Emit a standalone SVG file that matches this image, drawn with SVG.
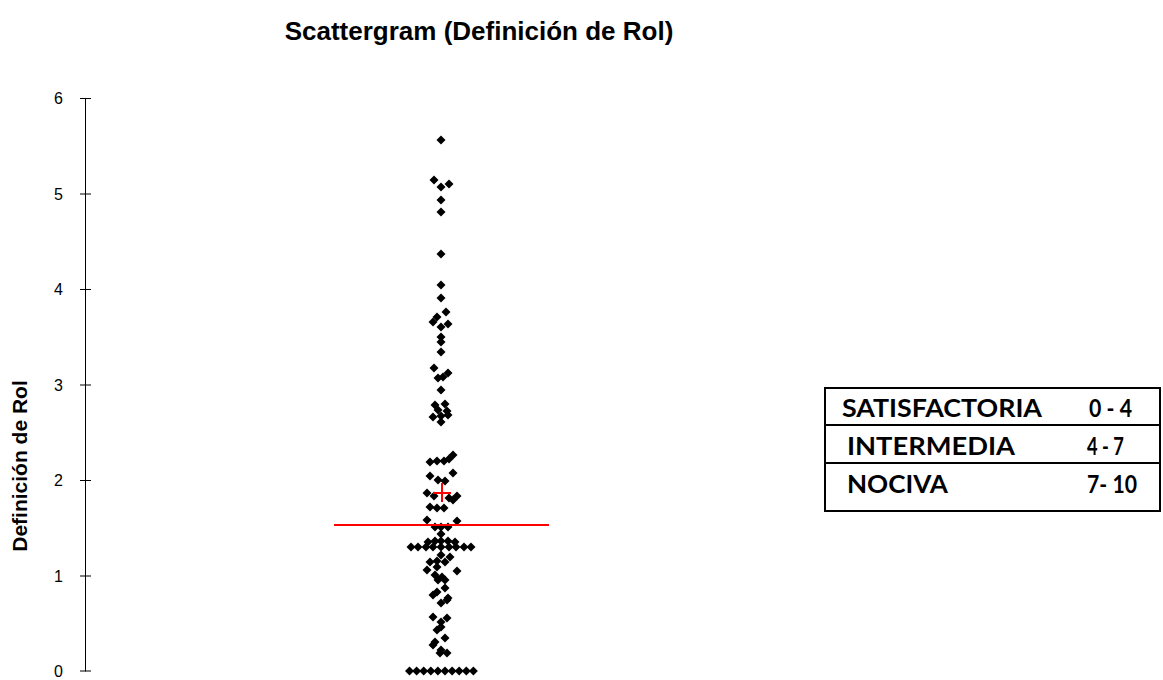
<svg xmlns="http://www.w3.org/2000/svg" xmlns:xlink="http://www.w3.org/1999/xlink" width="1163" height="680" viewBox="0 0 1163 680">
<style>
.ttl{font-family:"Liberation Sans",Arial,sans-serif;font-weight:bold;font-size:26px;fill:#000}
.tick{font-family:"Liberation Sans",Arial,sans-serif;font-size:16px;fill:#000;text-anchor:end}
.ax{stroke:#000;stroke-width:1;fill:none}
.tb{font-family:Lato,"Liberation Sans",sans-serif;font-weight:bold;font-size:25px;fill:#000}
.red{stroke:#ff0000;stroke-width:2;fill:none}
</style>
<defs>
<path id="d" d="M0,-4.5 L4.5,0 L0,4.5 L-4.5,0Z" fill="#000"/>
</defs>
<rect width="1163" height="680" fill="#fff"/>
<text class="ttl" x="479" y="40" text-anchor="middle">Scattergram (Definición de Rol)</text>
<g id="axis">
<line class="ax" x1="85.5" y1="98" x2="85.5" y2="671.5"/>
<line class="ax" x1="80" y1="98.5" x2="91" y2="98.5"/>
<line class="ax" x1="80" y1="194" x2="91" y2="194"/>
<line class="ax" x1="80" y1="289.5" x2="91" y2="289.5"/>
<line class="ax" x1="80" y1="385" x2="91" y2="385"/>
<line class="ax" x1="80" y1="480.5" x2="91" y2="480.5"/>
<line class="ax" x1="80" y1="576" x2="91" y2="576"/>
<line class="ax" x1="80" y1="671" x2="91" y2="671"/>
<text class="tick" x="63" y="104.2">6</text>
<text class="tick" x="63" y="199.7">5</text>
<text class="tick" x="63" y="295.2">4</text>
<text class="tick" x="63" y="390.7">3</text>
<text class="tick" x="63" y="486.2">2</text>
<text class="tick" x="63" y="581.7">1</text>
<text class="tick" x="63" y="676.7">0</text>
<text class="ttl" style="font-size:21px" text-anchor="middle" transform="translate(27,466) rotate(-90)">Definición de Rol</text>
</g>
<g id="points">
<use href="#d" x="441" y="140"/>
<use href="#d" x="434" y="180"/>
<use href="#d" x="449" y="184"/>
<use href="#d" x="441" y="187"/>
<use href="#d" x="441" y="200"/>
<use href="#d" x="441" y="212"/>
<use href="#d" x="441" y="254"/>
<use href="#d" x="441" y="285"/>
<use href="#d" x="441" y="298"/>
<use href="#d" x="446" y="312"/>
<use href="#d" x="437" y="317"/>
<use href="#d" x="433" y="322"/>
<use href="#d" x="441" y="327"/>
<use href="#d" x="448" y="324"/>
<use href="#d" x="441" y="337"/>
<use href="#d" x="441" y="342"/>
<use href="#d" x="441" y="352"/>
<use href="#d" x="434" y="368"/>
<use href="#d" x="448" y="373"/>
<use href="#d" x="443" y="377"/>
<use href="#d" x="438" y="378"/>
<use href="#d" x="441" y="390"/>
<use href="#d" x="435" y="405"/>
<use href="#d" x="445" y="404"/>
<use href="#d" x="438" y="410"/>
<use href="#d" x="447" y="411"/>
<use href="#d" x="433" y="417"/>
<use href="#d" x="441" y="416"/>
<use href="#d" x="448" y="415"/>
<use href="#d" x="441" y="422"/>
<use href="#d" x="453" y="455"/>
<use href="#d" x="430" y="462"/>
<use href="#d" x="437" y="461"/>
<use href="#d" x="444" y="461"/>
<use href="#d" x="449" y="459"/>
<use href="#d" x="453" y="473"/>
<use href="#d" x="430" y="476"/>
<use href="#d" x="438" y="480"/>
<use href="#d" x="445" y="481"/>
<use href="#d" x="427" y="493"/>
<use href="#d" x="434" y="496"/>
<use href="#d" x="449" y="498"/>
<use href="#d" x="457" y="496"/>
<use href="#d" x="453" y="500"/>
<use href="#d" x="430" y="507"/>
<use href="#d" x="437" y="508"/>
<use href="#d" x="444" y="508"/>
<use href="#d" x="427" y="520"/>
<use href="#d" x="457" y="521"/>
<use href="#d" x="435" y="527"/>
<use href="#d" x="441" y="527"/>
<use href="#d" x="448" y="527"/>
<use href="#d" x="441" y="534"/>
<use href="#d" x="428" y="542"/>
<use href="#d" x="435" y="541"/>
<use href="#d" x="441" y="541"/>
<use href="#d" x="448" y="541"/>
<use href="#d" x="455" y="542"/>
<use href="#d" x="411" y="547"/>
<use href="#d" x="418" y="547"/>
<use href="#d" x="426" y="547"/>
<use href="#d" x="433" y="547"/>
<use href="#d" x="441" y="547"/>
<use href="#d" x="449" y="547"/>
<use href="#d" x="456" y="547"/>
<use href="#d" x="464" y="547"/>
<use href="#d" x="471" y="547"/>
<use href="#d" x="441" y="555"/>
<use href="#d" x="450" y="557"/>
<use href="#d" x="437" y="561"/>
<use href="#d" x="445" y="562"/>
<use href="#d" x="430" y="562"/>
<use href="#d" x="427" y="570"/>
<use href="#d" x="437" y="567"/>
<use href="#d" x="457" y="571"/>
<use href="#d" x="435" y="575"/>
<use href="#d" x="442" y="577"/>
<use href="#d" x="438" y="580"/>
<use href="#d" x="445" y="580"/>
<use href="#d" x="445" y="588"/>
<use href="#d" x="437" y="592"/>
<use href="#d" x="433" y="595"/>
<use href="#d" x="448" y="598"/>
<use href="#d" x="447" y="600"/>
<use href="#d" x="441" y="603"/>
<use href="#d" x="433" y="617"/>
<use href="#d" x="447" y="618"/>
<use href="#d" x="441" y="622"/>
<use href="#d" x="441" y="627"/>
<use href="#d" x="437" y="630"/>
<use href="#d" x="445" y="638"/>
<use href="#d" x="435" y="642"/>
<use href="#d" x="433" y="645"/>
<use href="#d" x="441" y="650"/>
<use href="#d" x="440" y="653"/>
<use href="#d" x="447" y="653"/>
<use href="#d" x="409.5" y="671"/>
<use href="#d" x="416.6" y="671"/>
<use href="#d" x="423.7" y="671"/>
<use href="#d" x="430.8" y="671"/>
<use href="#d" x="437.9" y="671"/>
<use href="#d" x="445" y="671"/>
<use href="#d" x="452.1" y="671"/>
<use href="#d" x="459.2" y="671"/>
<use href="#d" x="466.3" y="671"/>
<use href="#d" x="473.4" y="671"/>
</g>
<g id="stats">
<line class="red" x1="334" y1="525" x2="549" y2="525"/>
<line class="red" x1="442" y1="483" x2="442" y2="502"/>
<line class="red" x1="433" y1="493" x2="451" y2="493"/>
</g>
<g id="legend">
<rect x="825" y="388" width="335" height="123" fill="#fff" stroke="#000" stroke-width="2"/>
<line x1="825" y1="425" x2="1160" y2="425" stroke="#000" stroke-width="2"/>
<line x1="825" y1="463" x2="1160" y2="463" stroke="#000" stroke-width="2"/>
<text class="tb" x="842" y="417" textLength="200" lengthAdjust="spacingAndGlyphs">SATISFACTORIA</text>
<text class="tb" x="1089" y="417" textLength="43" lengthAdjust="spacingAndGlyphs">0 - 4</text>
<text class="tb" x="847" y="455" textLength="168" lengthAdjust="spacingAndGlyphs">INTERMEDIA</text>
<text class="tb" x="1087" y="455" textLength="37" lengthAdjust="spacingAndGlyphs">4 - 7</text>
<text class="tb" x="847" y="493" textLength="101" lengthAdjust="spacingAndGlyphs">NOCIVA</text>
<text class="tb" x="1087" y="493" textLength="50" lengthAdjust="spacingAndGlyphs">7- 10</text>
</g>
</svg>
